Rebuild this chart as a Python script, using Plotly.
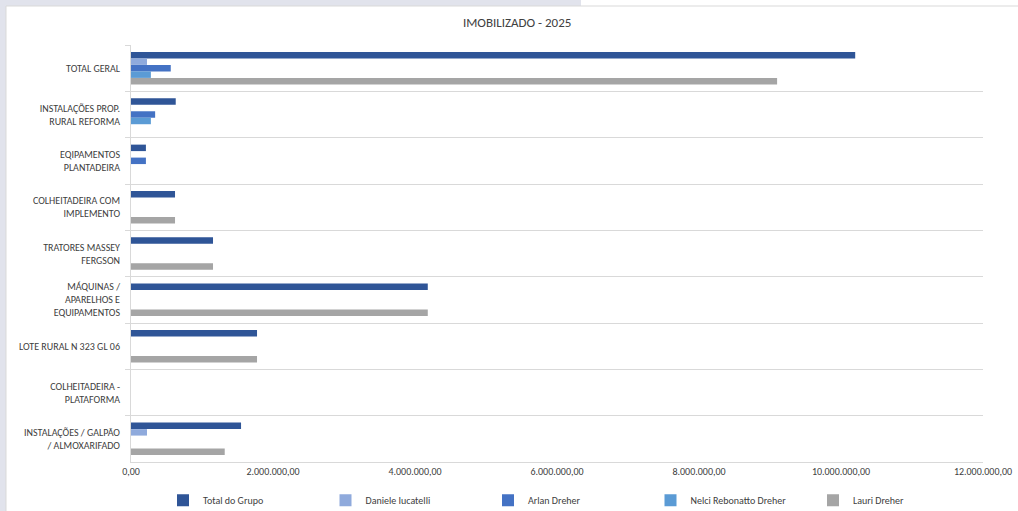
import plotly.graph_objects as go

categories = [
    "TOTAL GERAL",
    "INSTALAÇÕES PROP.<br>RURAL REFORMA",
    "EQIPAMENTOS<br>PLANTADEIRA",
    "COLHEITADEIRA COM<br>IMPLEMENTO",
    "TRATORES MASSEY<br>FERGSON",
    "MÁQUINAS /<br>APARELHOS E<br>EQUIPAMENTOS",
    "LOTE RURAL N 323 GL 06",
    "COLHEITADEIRA -<br>PLATAFORMA",
    "INSTALAÇÕES / GALPÃO<br>/ ALMOXARIFADO",
]

total_grupo = [10200000, 630000, 210000, 620000, 1155000, 4180000, 1775000, 0, 1550000]
daniele = [225000, 0, 0, 0, 0, 0, 0, 0, 225000]
arlan = [560000, 340000, 210000, 0, 0, 0, 0, 0, 0]
nelci = [280000, 280000, 0, 0, 0, 0, 0, 0, 0]
lauri = [9100000, 0, 0, 620000, 1155000, 4180000, 1775000, 0, 1320000]

series_names = ["Total do Grupo", "Daniele Iucatelli", "Arlan Dreher", "Nelci Rebonatto Dreher", "Lauri Dreher"]
series_values = [total_grupo, daniele, arlan, nelci, lauri]
colors = ["#2F5597", "#8FAADC", "#4472C4", "#5B9BD5", "#A5A5A5"]

x_tickvals = [0, 2000000, 4000000, 6000000, 8000000, 10000000, 12000000]

FONT = "Liberation Sans Narrow, Carlito, Lato, sans-serif"

W, H = 1018, 511
L, R, T, B = 131, 35, 45, 49
PW, PH = W - L - R, H - T - B


def px_x(p):
    return (p - L) / PW


def px_y(p):
    return (H - B - p) / PH


fig = go.Figure()
for name, vals, col in zip(series_names, series_values, colors):
    fig.add_trace(go.Bar(
        y=categories, x=vals, name=name, orientation="h",
        marker=dict(color=col, line=dict(width=0)),
    ))

fig.update_layout(
    width=W, height=H,
    paper_bgcolor="white", plot_bgcolor="white",
    separators=",.",
    barmode="group", bargap=0.3, bargroupgap=0,
    margin=dict(l=L, r=R, t=T, b=B, autoexpand=False),
    title=dict(text="IMOBILIZADO - 2025", x=0.508, xanchor="center", y=0.957, yanchor="middle",
               font=dict(family=FONT, size=13, color="#404040")),
    font=dict(family=FONT, size=10, color="#404040"),
    legend=dict(orientation="h", x=px_x(163), xanchor="left", y=-0.057, yanchor="top",
                entrywidth=117.5, entrywidthmode="pixels", traceorder="normal",
                font=dict(family=FONT, size=10, color="#404040"),
                itemwidth=30),
    xaxis=dict(range=[0, 12000000], tickvals=x_tickvals, tickformat=",.2f",
               showgrid=False, zeroline=False, showline=True, linecolor="#D9D9D9",
               ticks="", tickfont=dict(family=FONT, size=10, color="#404040")),
    yaxis=dict(autorange="reversed", type="category", tickson="boundaries",
               showgrid=True, gridcolor="#D9D9D9", gridwidth=1,
               showline=True, linecolor="#D9D9D9", ticks="outside", ticklen=5,
               tickcolor="#D9D9D9", ticklabelstandoff=8,
               tickfont=dict(family=FONT, size=10, color="#404040")),
    shapes=[
        dict(type="rect", xref="paper", yref="paper", x0=px_x(0), x1=px_x(581), y0=px_y(6), y1=px_y(0),
             fillcolor="#E1E3EC", line=dict(width=0), layer="below"),
        dict(type="rect", xref="paper", yref="paper", x0=px_x(0), x1=px_x(6), y0=px_y(H), y1=px_y(0),
             fillcolor="#E1E3EC", line=dict(width=0), layer="below"),
        dict(type="line", xref="paper", yref="paper", x0=px_x(6), x1=px_x(W), y0=px_y(6), y1=px_y(6),
             line=dict(color="#D9D9D9", width=1), layer="below"),
        dict(type="line", xref="paper", yref="paper", x0=px_x(6), x1=px_x(6), y0=px_y(H), y1=px_y(6),
             line=dict(color="#D9D9D9", width=1), layer="below"),
    ],
)

fig.write_html("out.html", config={"displayModeBar": False},
               post_script="document.body.style.margin='0px';")
